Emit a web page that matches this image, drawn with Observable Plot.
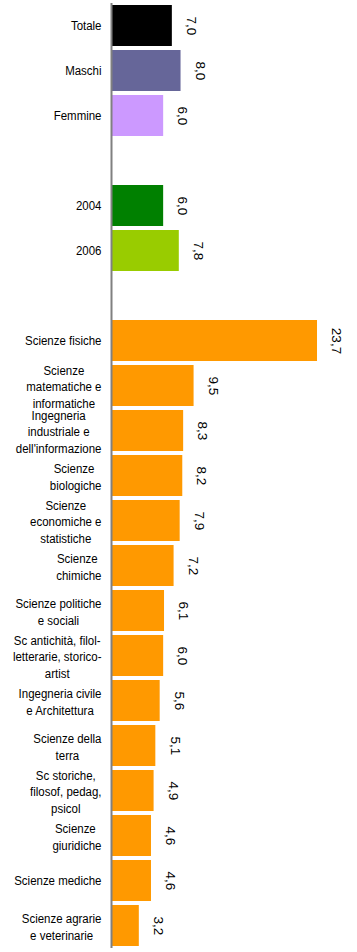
<!DOCTYPE html>
<html><head><meta charset="utf-8">
<script src="https://cdn.jsdelivr.net/npm/d3@7"></script>
<script src="https://cdn.jsdelivr.net/npm/@observablehq/plot@0.6"></script>
<style>body{margin:0;background:#fff}#chart svg{display:block}</style>
</head><body><div id="chart"></div>
<script>
const categories = [
  "Totale", "Maschi", "Femmine", "2004", "2006",
  "Scienze fisiche",
  "Scienze\nmatematiche e\ninformatiche",
  "Ingegneria\nindustriale e\ndell'informazione",
  "Scienze \nbiologiche",
  "Scienze\neconomiche e\nstatistiche",
  "Scienze \nchimiche",
  "Scienze politiche\ne sociali",
  "Sc antichità, filol-\nletterarie, storico-\nartist",
  "Ingegneria civile\ne Architettura",
  "Scienze della\nterra",
  "Sc storiche,\nfilosof, pedag,\npsicol",
  "Scienze \ngiuridiche",
  "Scienze mediche",
  "Scienze agrarie\ne veterinarie"
];
const values = [7.0, 8.0, 6.0, 6.0, 7.8, 23.7, 9.5, 8.3, 8.2, 7.9, 7.2, 6.1, 6.0, 5.6, 5.1, 4.9, 4.6, 4.6, 3.2];
const series = ["Totale", "Maschi", "Femmine", "2004", "2006",
  "Gruppo", "Gruppo", "Gruppo", "Gruppo", "Gruppo", "Gruppo", "Gruppo",
  "Gruppo", "Gruppo", "Gruppo", "Gruppo", "Gruppo", "Gruppo", "Gruppo"];
const seriesNames = ["Totale", "Maschi", "Femmine", "2004", "2006", "Gruppo"];
const seriesColors = ["#000000", "#666699", "#cc99ff", "#008000", "#99cc00", "#ff9900"];

const rows = categories.map((c, i) => ({cat: c, value: values[i], series: series[i]}));
const yDomain = [...categories.slice(0, 3), "gap1", ...categories.slice(3, 5), "gap2", ...categories.slice(5)];

const labelFamily = "'Liberation Sans', Arial, sans-serif";
const labelSize = 13.5;
const squeeze = 0.85;
const ctx = document.createElement("canvas").getContext("2d");
ctx.font = `${labelSize}px ${labelFamily}`;
const measure = s => ctx.measureText(s).width * squeeze;

const labelMarks = rows.map(r => {
  const lines = r.cat.split("\n");
  if (lines.length === 1) {
    return Plot.text([r], {y: "cat", text: "cat", frameAnchor: "left", textAnchor: "end", dx: -10,
      fill: "#000", fontSize: labelSize, fontFamily: labelFamily});
  }
  const w = Math.max(...lines.map(measure));
  return Plot.text([r], {y: "cat", text: "cat", frameAnchor: "left", textAnchor: "middle", dx: -10 - w / 2,
    lineHeight: 1.25, fill: "#000", fontSize: labelSize, fontFamily: labelFamily});
});

const chart = Plot.plot({
  width: 357,
  height: 952,
  marginLeft: 111,
  marginRight: 20,
  marginTop: 3,
  marginBottom: 4,
  style: {background: "#fff"},
  x: {domain: [0, 26], axis: null},
  y: {domain: yDomain, axis: null, paddingInner: 0.09, paddingOuter: 0.045},
  color: {domain: seriesNames, range: seriesColors},
  marks: [
    Plot.barX(rows, {y: "cat", x: "value", fill: "series"}),
    Plot.ruleX([0], {stroke: "#808080", strokeWidth: 2}),
    Plot.text(rows, {y: "cat", x: "value", text: d => d.value.toFixed(1).replace(".", ","),
      rotate: 90, dx: 19, textAnchor: "middle", fill: "#000", fontSize: 13.5,
      fontFamily: "'Liberation Sans', Arial, sans-serif"}),
    ...labelMarks
  ]
});
// horizontally condense the (unrotated) category labels, like the original narrow lettering
chart.querySelectorAll("text").forEach(t => {
  const tr = t.getAttribute("transform") || "";
  if (!tr.includes("rotate")) t.setAttribute("transform", `${tr} scale(${squeeze},1)`);
});
document.getElementById("chart").appendChild(chart);
</script>
</body></html>
